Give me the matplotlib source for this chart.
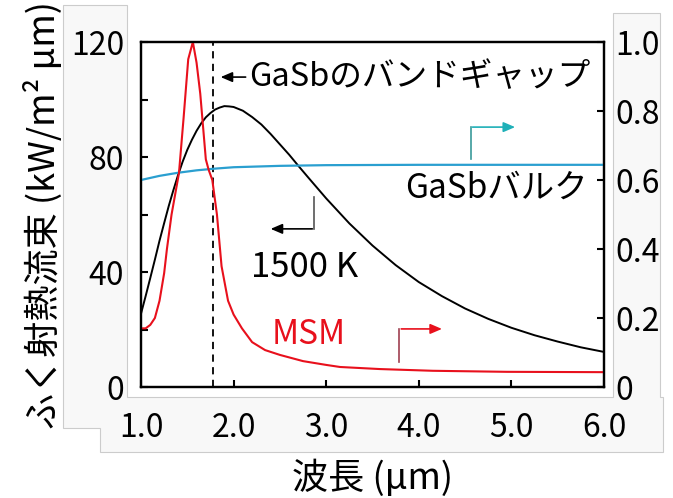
import numpy as np
import matplotlib.pyplot as plt
from matplotlib.patches import Polygon

plt.rcParams['font.family'] = ['Noto Sans CJK JP', 'DejaVu Sans']

# 1500 K 黒体のふく射熱流束 (kW/m2 um), 図から読み取り
bb_wl = [1.0, 1.05, 1.1, 1.15, 1.2, 1.25, 1.3, 1.35, 1.4, 1.45, 1.5, 1.55, 1.6,
         1.65, 1.7, 1.75, 1.8, 1.85, 1.9, 1.95, 2.0, 2.1, 2.2, 2.3, 2.4, 2.5,
         2.6, 2.7, 2.8, 3.0, 3.25, 3.5, 3.75, 4.0, 4.25, 4.5, 4.75, 5.0, 5.25,
         5.5, 5.75, 6.0]
bb_flux = [25.5, 31.6, 37.9, 44.3, 50.9, 57.0, 63.0, 68.5, 73.7, 78.4, 82.5, 86.0,
           89.1, 91.7, 93.8, 95.3, 96.5, 97.2, 97.7, 97.6, 97.4, 96.1, 93.9, 91.3,
           88.0, 84.4, 80.8, 76.9, 73.1, 65.6, 56.9, 49.2, 42.4, 36.5, 31.6, 27.3,
           23.7, 20.6, 18.0, 15.8, 13.8, 12.2]

# MSM の放射率
msm_wl = [1.0, 1.05, 1.1, 1.15, 1.2, 1.25, 1.28, 1.33, 1.41, 1.46, 1.51, 1.56,
          1.60, 1.64, 1.70, 1.73, 1.77, 1.82, 1.87, 1.94, 2.0, 2.09, 2.2, 2.34,
          2.5, 2.75, 3.0, 3.15, 3.58, 4.15, 4.95, 6.0]
msm_emis = [0.17, 0.17, 0.18, 0.20, 0.25, 0.33, 0.40, 0.50, 0.62, 0.78, 0.95, 1.0,
            0.94, 0.85, 0.66, 0.63, 0.60, 0.50, 0.35, 0.25, 0.21, 0.17, 0.13, 0.107,
            0.093, 0.075, 0.064, 0.058, 0.052, 0.047, 0.044, 0.043]

# GaSb バルクの放射率
gasb_wl = [1.0, 1.2, 1.4, 1.6, 1.8, 2.0, 2.5, 3.0, 4.0, 6.0]
gasb_emis = [0.600, 0.612, 0.621, 0.628, 0.633, 0.637, 0.641, 0.643, 0.644, 0.644]

bandgap_wl = 1.78

W, H = 673, 498
fig = plt.figure(figsize=(W / 100, H / 100), dpi=100)

# 目盛りラベルの背景パネル (ピクセル座標)
outline = [(63, 5), (127, 5), (127, 397), (613, 397), (613, 13), (660, 13),
           (660, 397), (663, 397), (663, 452), (100, 452), (100, 428), (63, 428)]
fig.patches.append(Polygon([(x / W, 1 - y / H) for x, y in outline], closed=True,
                           transform=fig.transFigure, facecolor='#f8f8f8',
                           edgecolor='#cccccc', lw=0.8, zorder=-10))

ax = fig.add_axes([141 / W, 1 - 387 / H, (604 - 141) / W, (387 - 42) / H])
ax2 = ax.twinx()

ax.plot(bb_wl, bb_flux, color='black', lw=1.4, zorder=3)
ax.axvline(bandgap_wl, color='black', ls=(0, (4, 3)), lw=1.3)
ax2.plot(gasb_wl, gasb_emis, color='#2a9fd0', lw=1.6)
ax2.plot(msm_wl, msm_emis, color='#e8101c', lw=1.5)

ax.set_xlim(1.0, 6.0)
ax.set_ylim(0, 120)
ax2.set_ylim(0, 1.0)

ax.set_xticks([1, 2, 3, 4, 5, 6])
ax.set_xticklabels(['1.0', '2.0', '3.0', '4.0', '5.0', '6.0'])
ax.set_yticks([0, 20, 40, 60, 80, 100, 120])
ax.set_yticklabels(['0', '', '40', '', '80', '', '120'])
ax2.set_yticks([0, 0.2, 0.4, 0.6, 0.8, 1.0])
ax2.set_yticklabels(['0', '0.2', '0.4', '0.6', '0.8', '1.0'])

ax.tick_params(axis='x', direction='in', length=5, width=1.5, labelsize=23, pad=18)
ax.tick_params(axis='y', direction='in', length=5, width=1.5, labelsize=23, pad=12)
ax2.tick_params(axis='y', direction='in', length=5, width=1.5, labelsize=23, pad=8)
for a in (ax, ax2):
    for s in a.spines.values():
        s.set_linewidth(1.6)

ax.set_xlabel('波長 (μm)', fontsize=26, labelpad=11)
ax.set_ylabel('ふく射熱流束 (kW/m² μm)', fontsize=26, labelpad=6)

# 注記
ax.annotate('', xy=(1.83, 107.8), xytext=(2.16, 107.8),
            arrowprops=dict(arrowstyle='-|>,head_length=0.7,head_width=0.3', color='black', lw=1.2))
ax.text(2.17, 107.8, 'GaSbのバンドギャップ', fontsize=23.5, va='center', ha='left')

ax.plot([2.87, 2.87], [66.1, 55.0], color='#555555', lw=1.2)
ax.annotate('', xy=(2.37, 55.0), xytext=(2.88, 55.0),
            arrowprops=dict(arrowstyle='-|>,head_length=0.7,head_width=0.3', color='black', lw=1.2))
ax.text(2.77, 41.7, '1500 K', fontsize=25, va='center', ha='center')

ax.plot([4.56, 4.56], [79.3, 90.4], color='#3a9a9a', lw=1.2)
ax.annotate('', xy=(5.07, 90.4), xytext=(4.55, 90.4),
            arrowprops=dict(arrowstyle='-|>,head_length=0.7,head_width=0.3', color='#1fb0b8', lw=1.2))
ax.text(4.84, 69.2, 'GaSbバルク', fontsize=24, va='center', ha='center')

ax.text(2.81, 18.4, 'MSM', fontsize=24, va='center', ha='center', color='#e8101c')
ax.plot([3.79, 3.79], [8.7, 20.2], color='#a04050', lw=1.2)
ax.annotate('', xy=(4.28, 20.2), xytext=(3.78, 20.2),
            arrowprops=dict(arrowstyle='-|>,head_length=0.7,head_width=0.3', color='#e8101c', lw=1.2))

fig.savefig('out.png', dpi=100)
